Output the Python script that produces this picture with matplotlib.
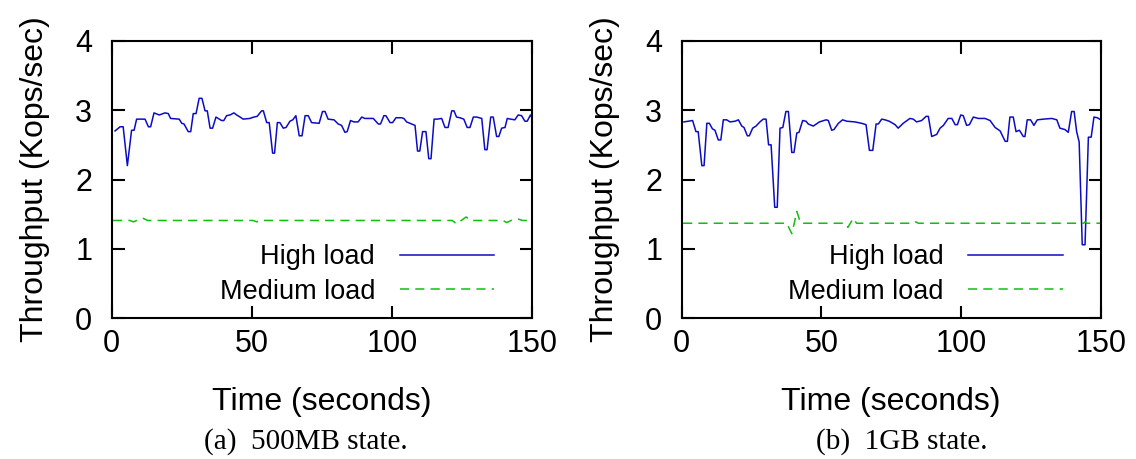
import matplotlib
matplotlib.use("Agg")
import matplotlib.pyplot as plt

# throughput over time
# (a) 500MB state
a_high_t = [1.2, 3.0, 4.1, 5.6, 7.1, 8.0, 8.9, 11.9, 13.1, 13.9, 15.1, 17.0, 19.0, 20.2, 21.0,
            24.1, 25.0, 25.8, 27.3, 28.2, 29.1, 30.1, 31.2, 32.2, 33.3, 34.1, 35.1, 36.0, 37.2,
            38.0, 39.2, 40.0, 41.0, 42.2, 43.6, 44.6, 45.8, 46.9, 49.3, 50.7, 51.9, 53.5, 54.1,
            55.3, 56.2, 57.4, 58.1, 59.1, 60.0, 61.2, 62.2, 63.6, 64.6, 65.7, 66.9, 67.9, 69.0,
            70.1, 71.3, 74.0, 75.2, 76.1, 77.2, 79.3, 80.8, 82.0, 83.2, 84.0, 85.2, 86.4, 87.9,
            89.2, 90.3, 93.3, 95.1, 95.9, 97.1, 97.8, 99.3, 100.2, 101.4, 103.4, 104.2, 105.2,
            107.0, 108.2, 109.1, 109.9, 110.9, 112.1, 113.1, 113.9, 115.0, 116.1, 117.7, 118.9,
            120.0, 121.3, 122.1, 123.0, 124.2, 125.6, 126.8, 127.8, 129.0, 130.2, 132.0, 133.1,
            133.9, 135.2, 136.1, 137.3, 138.1, 139.1, 140.3, 141.1, 142.3, 143.8, 145.0, 146.2,
            147.4, 148.2, 149.4, 149.8]
a_high_v = [2.70, 2.76, 2.76, 2.20, 2.71, 2.71, 2.87, 2.87, 2.76, 2.76, 2.96, 2.93, 2.96, 2.95, 2.88,
            2.87, 2.81, 2.80, 2.69, 2.69, 2.95, 2.95, 3.17, 3.17, 2.99, 2.99, 2.74, 2.74, 2.90,
            2.88, 2.85, 2.85, 2.92, 2.93, 2.96, 2.93, 2.90, 2.87, 2.88, 2.90, 2.91, 2.99, 2.99,
            2.82, 2.82, 2.38, 2.38, 2.82, 2.82, 2.74, 2.75, 2.84, 2.86, 2.92, 2.63, 2.63, 2.92,
            2.92, 2.82, 2.81, 2.98, 2.98, 2.87, 2.86, 2.80, 2.78, 2.68, 2.69, 2.85, 2.83, 2.83,
            2.90, 2.88, 2.88, 2.80, 2.80, 2.92, 2.92, 2.82, 2.82, 2.89, 2.89, 2.88, 2.83,
            2.80, 2.78, 2.41, 2.41, 2.69, 2.69, 2.30, 2.30, 2.87, 2.87, 2.88, 2.75,
            2.75, 2.99, 2.99, 2.90, 2.89, 2.87, 2.75, 2.75, 2.90, 2.90, 2.88, 2.43,
            2.43, 2.90, 2.90, 2.62, 2.62, 2.74, 2.75, 2.88, 2.87, 2.86, 2.93, 2.92,
            2.84, 2.84, 2.93, 2.90]
a_med_t = [0.5, 6.5, 7.7, 9.0, 11.3, 12.8, 50.5, 51.7, 53.0, 121.5, 123.0, 126.4, 128.0,
           139.5, 140.9, 142.5, 145.0, 146.5, 150.0]
a_med_v = [1.41, 1.41, 1.39, 1.41, 1.44, 1.41, 1.41, 1.39, 1.41, 1.41, 1.36, 1.46, 1.41,
           1.41, 1.38, 1.41, 1.43, 1.41, 1.41]

# (b) 1GB state
b_high_t = [0.8, 3.9, 5.1, 5.9, 7.2, 8.0, 9.0, 9.9, 11.0, 11.9, 13.1, 14.0, 14.9, 16.1, 17.3,
            19.1, 20.3, 21.5, 22.3, 23.5, 24.2, 25.4, 26.6, 28.0, 29.2, 30.2, 31.1, 32.0, 33.3,
            34.2, 35.2, 36.2, 37.3, 38.2, 39.4, 40.2, 41.2, 42.0, 43.3, 44.5, 45.3, 47.1, 49.3,
            51.7, 52.5, 53.7, 54.5, 56.1, 57.6, 59.1, 62.0, 64.4, 66.0, 67.2, 68.4, 69.6, 70.4,
            71.6, 72.8, 74.3, 76.4, 77.5, 79.3, 81.7, 82.9, 84.1, 85.9, 87.5, 88.3, 89.5, 91.3,
            92.5, 93.7, 95.4, 96.7, 97.9, 98.7, 99.9, 100.8, 102.0, 103.0, 104.4, 106.2, 108.6,
            110.4, 112.2, 114.0, 115.8, 116.6, 117.5, 118.7, 119.7, 120.9, 122.3, 122.9, 123.7,
            124.9, 126.1, 127.3, 129.5, 132.5, 134.3, 135.4, 137.2, 138.4, 139.6, 140.5, 141.4,
            142.3, 143.4, 144.4, 145.6, 146.6, 147.6, 148.8, 150.0]
b_high_v = [2.83, 2.85, 2.69, 2.69, 2.20, 2.20, 2.81, 2.81, 2.73, 2.71, 2.57, 2.57, 2.86, 2.86, 2.83,
            2.84, 2.86, 2.77, 2.75, 2.63, 2.63, 2.74, 2.77, 2.83, 2.87, 2.87, 2.50, 2.50, 1.60,
            1.60, 2.74, 2.75, 2.98, 2.98, 2.39, 2.39, 2.67, 2.68, 2.85, 2.84, 2.80, 2.77, 2.83,
            2.86, 2.85, 2.71, 2.72, 2.81, 2.86, 2.84, 2.83, 2.81, 2.79, 2.42, 2.42, 2.80, 2.80,
            2.87, 2.86, 2.84, 2.79, 2.74, 2.81, 2.88, 2.87, 2.83, 2.85, 2.91, 2.91, 2.62, 2.65,
            2.74, 2.78, 2.88, 2.88, 2.79, 2.79, 2.93, 2.92, 2.78, 2.79, 2.90, 2.88, 2.88,
            2.85, 2.75, 2.70, 2.55, 2.55, 2.90, 2.90, 2.69, 2.71, 2.62, 2.62, 2.86,
            2.86, 2.78, 2.86, 2.87, 2.88, 2.86, 2.74, 2.72, 2.68, 2.98, 2.98, 2.69,
            2.54, 1.06, 1.06, 2.61, 2.61, 2.90, 2.89, 2.86]
b_med_t = [0.5, 37.6, 39.4, 40.3, 41.2, 42.6, 58.5, 59.5, 61.4, 62.6, 83.0, 83.8, 84.7,
           119.3, 120.0, 120.8, 143.9, 144.4, 145.0, 150.0]
b_med_v = [1.37, 1.37, 1.22, 1.37, 1.54, 1.37, 1.37, 1.31, 1.44, 1.37, 1.37, 1.39, 1.37,
           1.37, 1.385, 1.37, 1.37, 1.39, 1.37, 1.37]

panels = [
    (a_high_t, a_high_v, a_med_t, a_med_v, "(a)  500MB state."),
    (b_high_t, b_high_v, b_med_t, b_med_v, "(b)  1GB state."),
]

plt.rcParams["font.family"] = ["Liberation Sans", "DejaVu Sans"]

fig = plt.figure(figsize=(11.36, 4.59), dpi=100)
lefts = [0.0983, 0.6001]
widths = [0.3702, 0.3688]
caption_x = [0.2694, 0.794]

for i, (ht, hv, mt, mv, caption) in enumerate(panels):
    ax = fig.add_axes([lefts[i], 0.3065, widths[i], 0.6048])
    ax.plot(ht, hv, color="#0c0cc4", lw=1.1, label="High load")
    ax.plot(mt, mv, color="#10c010", lw=1.1, dashes=(6, 4), label="Medium load")
    ax.set_xlim(0, 150)
    ax.set_ylim(0, 4)
    ax.set_xticks([0, 50, 100, 150])
    ax.set_yticks([0, 1, 2, 3, 4])
    ax.tick_params(direction="in", length=9, width=1.5, labelsize=22,
                   top=True, right=True)
    ax.tick_params(axis="x", pad=8)
    ax.tick_params(axis="y", pad=14)
    for s in ax.spines.values():
        s.set_linewidth(1.5)
    ax.set_xlabel("Time (seconds)", fontsize=23, labelpad=20)
    ax.set_ylabel("Throughput (Kops/sec)", fontsize=23, labelpad=18)
    ax.legend(loc="center right", bbox_to_anchor=(0.91, 0.158), frameon=False,
              markerfirst=False, fontsize=19.5, handlelength=3.5, handletextpad=0.9,
              labelspacing=0.32, borderpad=0, borderaxespad=0)
    fig.text(caption_x[i], 0.038, caption, ha="center", va="center", fontsize=21,
             family="Liberation Serif")

fig.savefig("out.png", dpi=100)
